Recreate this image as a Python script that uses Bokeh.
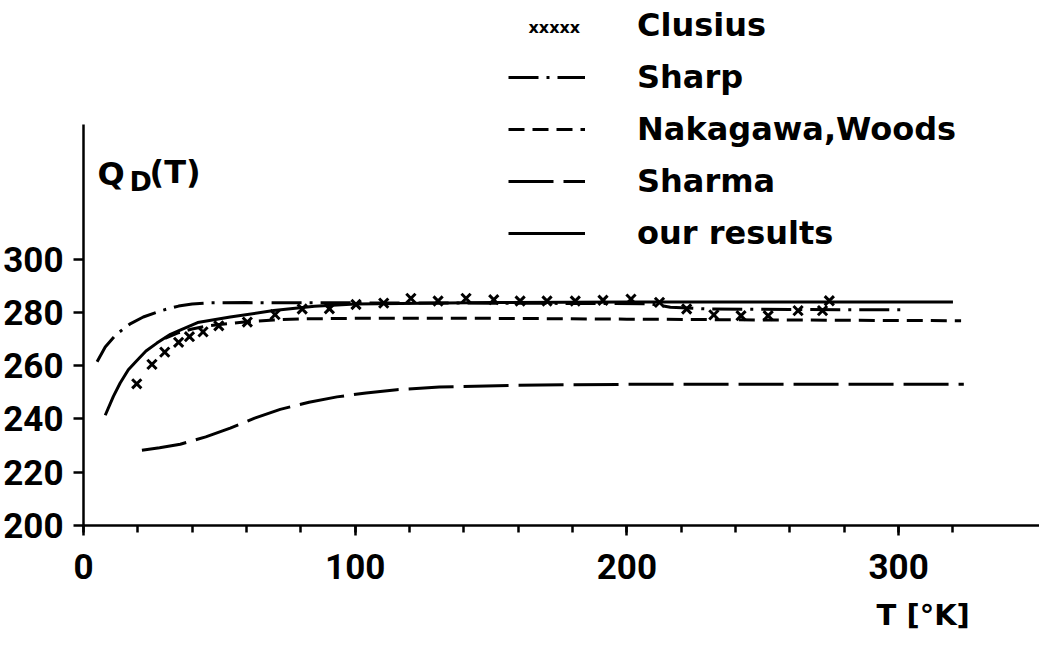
from bokeh.plotting import figure
from bokeh.models import Range1d, FixedTicker, Legend, LegendItem, Label, Title
from bokeh.embed import file_html
from bokeh.resources import INLINE

# ---------------- data ----------------
clusius_T = [19.6, 25.2, 29.9, 35.0, 39.0, 44.0, 49.8, 60.3, 70.5, 80.5, 90.5, 100.3,
             110.5, 120.5, 130.5, 140.8, 151.0, 160.7, 170.6, 181.0, 191.2, 201.5,
             212.0, 222.0, 232.0, 242.0, 252.0, 263.0, 272.0, 274.5]
clusius_Q = [253.2, 260.5, 265.1, 268.8, 270.9, 272.7, 275.0, 276.4, 279.2, 281.3, 281.4, 283.0,
             283.5, 285.3, 284.3, 285.3, 284.8, 284.3, 284.3, 284.3, 284.6, 285.0,
             283.8, 281.3, 279.1, 278.8, 278.8, 280.7, 280.7, 284.4]

sharp_T = [5.0, 8.0, 12.0, 17.0, 22.0, 29.0, 35.0, 40.0, 46.0, 60.0, 100.0, 150.0,
           208.0, 216.0, 230.0, 260.0, 303.0]
sharp_Q = [261.5, 267.0, 271.7, 275.6, 278.3, 280.8, 282.4, 283.2, 283.6, 283.7, 283.6, 283.5,
           283.3, 282.0, 281.3, 281.1, 281.0]

nakagawa_T = [30.0, 35.0, 40.0, 45.0, 50.0, 60.0, 70.0, 80.0, 100.0, 150.0, 200.0, 250.0, 323.0]
nakagawa_Q = [270.3, 272.4, 273.8, 274.8, 275.5, 276.5, 277.2, 277.6, 277.8, 277.8, 277.5, 277.2, 276.9]

sharma_T = [21.5, 28.0, 35.6, 45.0, 54.0, 63.0, 72.4, 83.0, 93.3, 104.0, 115.3, 131.0,
            160.0, 200.0, 260.0, 324.0]
sharma_Q = [228.3, 229.2, 230.5, 233.3, 236.6, 240.3, 243.6, 246.3, 248.3, 249.8, 251.0, 252.0,
            252.7, 253.0, 253.0, 253.0]

ours_T = [8.0, 11.0, 13.5, 16.5, 19.5, 23.0, 27.0, 32.0, 36.0, 42.0, 54.0, 70.0, 85.0,
          100.0, 150.0, 200.0, 250.0, 320.0]
ours_Q = [241.4, 248.5, 253.5, 258.5, 261.8, 265.5, 268.5, 271.8, 273.6, 276.2, 278.3, 280.7, 282.3,
          283.2, 283.7, 283.9, 283.9, 283.9]

x_major_ticks = [0, 100, 200, 300]
x_minor_ticks = list(range(0, 340, 20))
y_ticks = [200, 220, 240, 260, 280, 300]

# ---------------- layout constants (pixels) ----------------
W, H = 1039, 645
LEFT, BOTTOM = 83, 118
FRAME_W, FRAME_H = W - LEFT, H - BOTTOM
PX_PER_T = 2.717
PX_PER_Q = 2.673
X_END = FRAME_W / PX_PER_T
Y_END = 200 + FRAME_H / PX_PER_Q


def dx(px):
    """canvas pixel x -> data T"""
    return (px - LEFT) / PX_PER_T


def dy(py):
    """canvas pixel y (from top) -> data Q"""
    return 200 + (FRAME_H - py) / PX_PER_Q


TICK_FONT = "Roboto"
TEXT_FONT = "DejaVu Sans"

p = figure(width=W, height=H, output_backend="svg", toolbar_location=None,
           x_range=Range1d(0, X_END), y_range=Range1d(200, Y_END),
           min_border_left=LEFT, min_border_right=0, min_border_top=0,
           min_border_bottom=BOTTOM)
p.outline_line_color = None
p.xgrid.grid_line_color = None
p.ygrid.grid_line_color = None
p.background_fill_color = "white"
p.border_fill_color = "white"

# axes
xa = p.xaxis[0]
xa.ticker = FixedTicker(ticks=x_major_ticks, minor_ticks=x_minor_ticks)
xa.bounds = (0, X_END)
xa.axis_line_width = 2.5
xa.major_tick_line_width = 2.5
xa.minor_tick_line_width = 2.5
xa.major_tick_in = 0
xa.major_tick_out = 10
xa.minor_tick_in = 0
xa.minor_tick_out = 7
xa.major_label_standoff = 18
xa.major_label_text_font = TICK_FONT
xa.major_label_text_font_style = "bold"
xa.major_label_text_font_size = "35px"
xa.major_label_text_color = "black"

ya = p.yaxis[0]
ya.ticker = FixedTicker(ticks=y_ticks)
ya.bounds = (200, 350.5)
ya.axis_line_width = 2.5
ya.major_tick_line_width = 2.5
ya.major_tick_in = 0
ya.major_tick_out = 10
ya.minor_tick_line_color = None
ya.major_label_standoff = 10
ya.major_label_text_font = TICK_FONT
ya.major_label_text_font_style = "bold"
ya.major_label_text_font_size = "35px"
ya.major_label_text_color = "black"

# x-axis title, placed below the tick labels at the right end
p.add_layout(Title(text="T [°K]", align="left", offset=876 - LEFT, standoff=28,
                   text_font=TEXT_FONT, text_font_style="bold", text_font_size="29px",
                   text_color="black"), "below")

# series
r_sharp = p.line(sharp_T, sharp_Q, line_color="black", line_width=3, line_dash="30 8 3 8")
r_nak = p.line(nakagawa_T, nakagawa_Q, line_color="black", line_width=3, line_dash="16 8")
r_sharma = p.line(sharma_T, sharma_Q, line_color="black", line_width=3, line_dash="45 10")
r_ours = p.line(ours_T, ours_Q, line_color="black", line_width=3)
r_clus = p.scatter(clusius_T, clusius_Q, marker="x", size=13, line_color="black", line_width=3)
r_dummy = p.line(x=[], y=[], line_alpha=0)

legend = Legend(items=[
    LegendItem(label="Clusius", renderers=[r_dummy]),
    LegendItem(label="Sharp", renderers=[r_sharp]),
    LegendItem(label="Nakagawa,Woods", renderers=[r_nak]),
    LegendItem(label="Sharma", renderers=[r_sharma]),
    LegendItem(label="our results", renderers=[r_ours]),
], location=(425, 273), orientation="vertical", glyph_width=77, glyph_height=38,
    label_height=38, spacing=14, label_standoff=52, padding=0, margin=0,
    border_line_color=None, background_fill_alpha=0,
    label_text_font=TEXT_FONT, label_text_font_style="bold",
    label_text_font_size="32px", label_text_color="black")
p.add_layout(legend)

# Clusius legend symbol
p.add_layout(Label(x=dx(528), y=dy(27), text="xxxxx", text_font=TEXT_FONT,
                   text_font_style="bold", text_font_size="16px", text_baseline="middle",
                   text_align="left", text_color="black"))

# y-axis label  Q_D(T)
p.add_layout(Label(x=dx(97), y=dy(174), text="Q", text_font=TEXT_FONT, text_font_style="bold",
                   text_font_size="32px", text_baseline="alphabetic", text_color="black"))
p.add_layout(Label(x=dx(129), y=dy(182), text="D", text_font=TEXT_FONT, text_font_style="bold",
                   text_font_size="27px", text_baseline="alphabetic", text_color="black"))
p.add_layout(Label(x=dx(149), y=dy(172), text="(T)", text_font=TEXT_FONT, text_font_style="bold",
                   text_font_size="32px", text_baseline="alphabetic", text_color="black"))

open("out.html", "w").write(file_html(p, INLINE))
